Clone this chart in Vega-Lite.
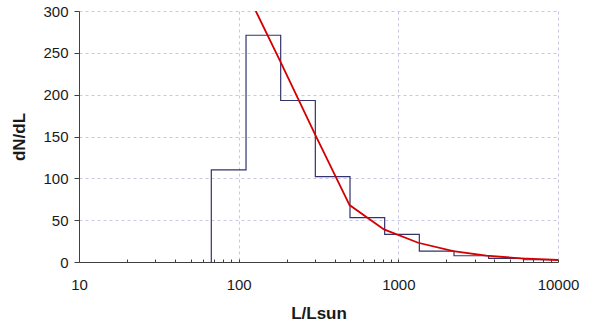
{
  "$schema": "https://vega.github.io/schema/vega-lite/v6.json",
  "autosize": "none",
  "padding": {"left": 79, "top": 11, "right": 43, "bottom": 67},
  "width": 479,
  "height": 251,
  "background": "white",
  "config": {
    "view": {"stroke": null},
    "font": "Liberation Sans",
    "axis": {
      "labelFont": "Liberation Sans",
      "titleFont": "Liberation Sans",
      "labelColor": "#1a1a1a",
      "titleColor": "#1a1a1a",
      "domainColor": "#404040",
      "tickColor": "#404040",
      "gridColor": "#c8c8e6",
      "gridDash": [3, 3],
      "gridWidth": 1
    }
  },
  "datasets": {
    "hist": [
      {"i": 0, "L": 67.4, "n": 0},
      {"i": 1, "L": 67.4, "n": 110},
      {"i": 2, "L": 111.2, "n": 271},
      {"i": 3, "L": 183.3, "n": 193},
      {"i": 4, "L": 302.1, "n": 102},
      {"i": 5, "L": 498.1, "n": 53},
      {"i": 6, "L": 821.2, "n": 33},
      {"i": 7, "L": 1353.6, "n": 13},
      {"i": 8, "L": 2232, "n": 7.5},
      {"i": 9, "L": 3679, "n": 4.4},
      {"i": 10, "L": 6066, "n": 2.7},
      {"i": 11, "L": 10000, "n": 2.7}
    ],
    "fit": [
      {"L": 128, "n": 300},
      {"L": 181, "n": 241},
      {"L": 302, "n": 152},
      {"L": 495, "n": 68},
      {"L": 813, "n": 39},
      {"L": 1332, "n": 23},
      {"L": 2208, "n": 13},
      {"L": 3560, "n": 7.5},
      {"L": 5850, "n": 4.4},
      {"L": 10000, "n": 2.4}
    ]
  },
  "encoding": {
    "x": {
      "field": "L",
      "type": "quantitative",
      "scale": {"type": "log", "domain": [10, 10000], "nice": false},
      "axis": {
        "title": "L/Lsun",
        "titleFontSize": 17,
        "titleFontWeight": "bold",
        "titlePadding": 13,
        "labelFontSize": 15,
        "labelPadding": 18,
        "format": "d",
        "values": [10, 20, 30, 40, 50, 60, 70, 80, 90, 100, 200, 300, 400, 500, 600, 700, 800, 900, 1000, 2000, 3000, 4000, 5000, 6000, 7000, 8000, 9000, 10000],
        "labelExpr": "(datum.value == 10 || datum.value == 100 || datum.value == 1000 || datum.value == 10000) ? datum.label : ''",
        "tickSize": -3,
        "gridOpacity": {"condition": {"test": "datum.value == 100 || datum.value == 1000 || datum.value == 10000", "value": 1}, "value": 0},
        "labelFlush": false,
        "labelOverlap": false
      }
    },
    "y": {
      "field": "n",
      "type": "quantitative",
      "scale": {"domain": [0, 300], "nice": false},
      "axis": {
        "title": "dN/dL",
        "titleFontSize": 17,
        "titleFontWeight": "bold",
        "titlePadding": 14,
        "labelFontSize": 15,
        "labelPadding": 6,
        "tickSize": 5,
        "values": [0, 50, 100, 150, 200, 250, 300]
      }
    }
  },
  "layer": [
    {
      "data": {"name": "hist"},
      "mark": {"type": "line", "interpolate": "step-after", "color": "#33336e", "strokeWidth": 1.2},
      "encoding": {"order": {"field": "i", "type": "quantitative"}}
    },
    {
      "data": {"name": "fit"},
      "mark": {"type": "line", "color": "#d40000", "strokeWidth": 1.8, "clip": true},
      "encoding": {}
    }
  ]
}
